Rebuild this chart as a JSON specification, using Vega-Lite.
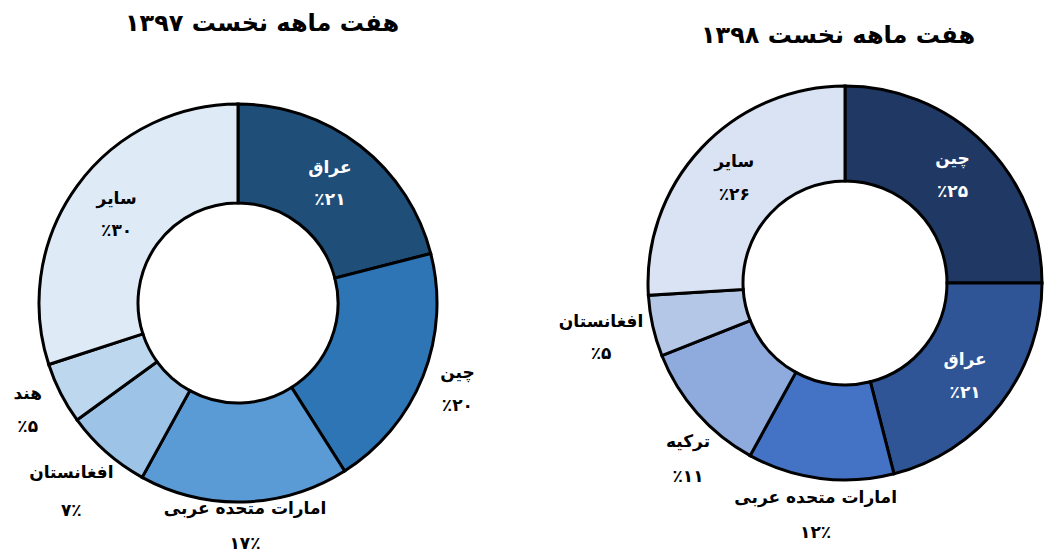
{
  "$schema": "https://vega.github.io/schema/vega-lite/v6.json",
  "padding": {"top": 12, "left": 0, "right": 0, "bottom": 0},
  "background": "white",
  "spacing": 82,
  "resolve": {"scale": {"color": "independent", "theta": "independent"}},
  "config": {"view": {"stroke": null}, "font": "DejaVu Sans"},
  "datasets": {
    "y97": [
      {"country": "عراق", "value": 21, "rank": 1, "label": "عراق\n٪۲۱"},
      {"country": "چین", "value": 20, "rank": 2, "label": "چین\n٪۲۰"},
      {"country": "امارات متحده عربی", "value": 17, "rank": 3, "label": "امارات متحده عربی\n۱۷٪"},
      {"country": "افغانستان", "value": 7, "rank": 4, "label": "افغانستان\n۷٪"},
      {"country": "هند", "value": 5, "rank": 5, "label": "هند\n٪۵"},
      {"country": "سایر", "value": 30, "rank": 6, "label": "سایر\n٪۳۰"}
    ],
    "y98": [
      {"country": "چین", "value": 25, "rank": 1, "label": "چین\n٪۲۵"},
      {"country": "عراق", "value": 21, "rank": 2, "label": "عراق\n٪۲۱"},
      {"country": "امارات متحده عربی", "value": 12, "rank": 3, "label": "امارات متحده عربی\n۱۲٪"},
      {"country": "ترکیه", "value": 11, "rank": 4, "label": "ترکیه\n٪۱۱"},
      {"country": "افغانستان", "value": 5, "rank": 5, "label": "افغانستان\n٪۵"},
      {"country": "سایر", "value": 26, "rank": 6, "label": "سایر\n٪۲۶"}
    ]
  },
  "hconcat": [
    {
      "width": 476,
      "height": 486,
      "title": {"text": "هفت ماهه نخست ۱۳۹۷", "fontSize": 24, "fontWeight": "bold", "offset": 24, "dx": 24, "color": "black"},
      "data": {"name": "y97"},
      "encoding": {
        "theta": {"field": "value", "type": "quantitative", "stack": true},
        "order": {"field": "rank", "type": "quantitative"}
      },
      "layer": [
        {
          "mark": {"type": "arc", "outerRadius": 199, "innerRadius": 100, "stroke": "black", "strokeWidth": 3},
          "encoding": {
            "color": {"field": "country", "type": "nominal", "legend": null,
              "scale": {"domain": ["عراق", "چین", "امارات متحده عربی", "افغانستان", "هند", "سایر"],
                        "range": ["#1F4E79", "#2E75B6", "#5B9BD5", "#9DC3E6", "#BDD7EE", "#DEEBF7"]}}
          }
        },
        {
          "mark": {"type": "text", "radius": 150, "lineBreak": "\n", "fontSize": 17, "fontWeight": "bold", "lineHeight": 32, "dy": -16},
          "encoding": {
            "detail": {"field": "country"},
            "text": {"condition": {"test": "indexof(['عراق','سایر'], datum.country) >= 0", "field": "label"}, "value": ""},
            "color": {"condition": {"test": "datum.country == 'عراق'", "value": "white"}, "value": "black"}
          }
        },
        {
          "mark": {"type": "text", "radius": 236, "lineBreak": "\n", "fontSize": 17, "fontWeight": "bold", "lineHeight": 33, "dy": -16.5, "color": "black"},
          "encoding": {
            "detail": {"field": "country"},
            "text": {"condition": {"test": "indexof(['چین','هند'], datum.country) >= 0", "field": "label"}, "value": ""}
          }
        },
        {
          "mark": {"type": "text", "radius": 224, "lineBreak": "\n", "fontSize": 17, "fontWeight": "bold", "lineHeight": 35, "dy": -17.5, "color": "black"},
          "encoding": {
            "detail": {"field": "country"},
            "text": {"condition": {"test": "datum.country == 'امارات متحده عربی'", "field": "label"}, "value": ""}
          }
        },
        {
          "mark": {"type": "text", "radius": 252, "lineBreak": "\n", "fontSize": 17, "fontWeight": "bold", "lineHeight": 38, "dy": -19, "color": "black"},
          "encoding": {
            "detail": {"field": "country"},
            "text": {"condition": {"test": "datum.country == 'افغانستان'", "field": "label"}, "value": ""}
          }
        }
      ]
    },
    {
      "width": 396,
      "height": 446,
      "title": {"text": "هفت ماهه نخست ۱۳۹۸", "fontSize": 24, "fontWeight": "bold", "offset": 12, "dx": -7, "color": "black"},
      "data": {"name": "y98"},
      "encoding": {
        "theta": {"field": "value", "type": "quantitative", "stack": true},
        "order": {"field": "rank", "type": "quantitative"}
      },
      "layer": [
        {
          "mark": {"type": "arc", "outerRadius": 197, "innerRadius": 102, "stroke": "black", "strokeWidth": 3},
          "encoding": {
            "color": {"field": "country", "type": "nominal", "legend": null,
              "scale": {"domain": ["چین", "عراق", "امارات متحده عربی", "ترکیه", "افغانستان", "سایر"],
                        "range": ["#203864", "#2F5597", "#4472C4", "#8FAADC", "#B4C7E7", "#DAE3F3"]}}
          }
        },
        {
          "mark": {"type": "text", "radius": 152, "lineBreak": "\n", "fontSize": 17, "fontWeight": "bold", "lineHeight": 33, "dy": -16.5},
          "encoding": {
            "detail": {"field": "country"},
            "text": {"condition": {"test": "indexof(['چین','عراق','سایر'], datum.country) >= 0", "field": "label"}, "value": ""},
            "color": {"condition": {"test": "datum.country != 'سایر'", "value": "white"}, "value": "black"}
          }
        },
        {
          "mark": {"type": "text", "radius": 234, "lineBreak": "\n", "fontSize": 17, "fontWeight": "bold", "lineHeight": 35, "dy": -17.5, "color": "black"},
          "encoding": {
            "detail": {"field": "country"},
            "text": {"condition": {"test": "datum.country == 'امارات متحده عربی'", "field": "label"}, "value": ""}
          }
        },
        {
          "mark": {"type": "text", "radius": 236, "lineBreak": "\n", "fontSize": 17, "fontWeight": "bold", "lineHeight": 35, "dx": 20, "dy": 3, "color": "black"},
          "encoding": {
            "detail": {"field": "country"},
            "text": {"condition": {"test": "datum.country == 'ترکیه'", "field": "label"}, "value": ""}
          }
        },
        {
          "mark": {"type": "text", "radius": 250, "lineBreak": "\n", "fontSize": 17, "fontWeight": "bold", "lineHeight": 32, "dy": -16, "color": "black"},
          "encoding": {
            "detail": {"field": "country"},
            "text": {"condition": {"test": "datum.country == 'افغانستان'", "field": "label"}, "value": ""}
          }
        }
      ]
    }
  ]
}
